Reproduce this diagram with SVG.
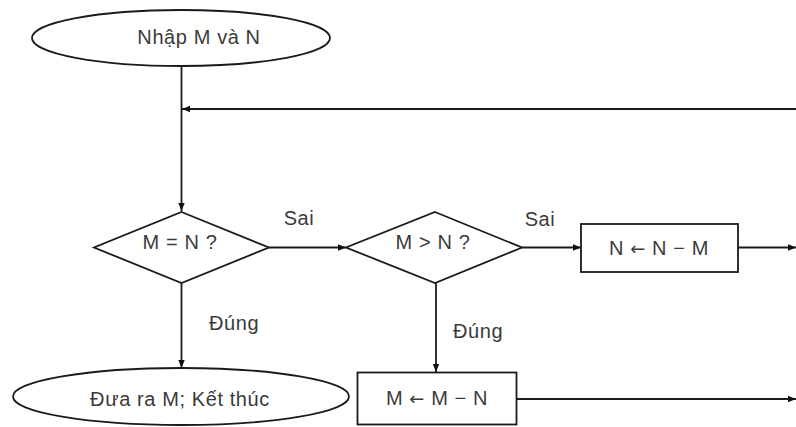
<svg xmlns="http://www.w3.org/2000/svg" width="796" height="427" viewBox="0 0 796 427">
<defs>
<marker id="arr" viewBox="0 0 10 10" refX="10" refY="5" markerWidth="8" markerHeight="8" markerUnits="userSpaceOnUse" orient="auto">
<path d="M0,1 L10,5 L0,9 Z" fill="#111"/>
</marker>
<style>
.s{fill:#fff;stroke:#1a1a1a;stroke-width:1.8}
.t{font-family:"Liberation Sans",Arial,sans-serif;font-size:20px;letter-spacing:0.6px;fill:#3a3a3a;text-anchor:middle}
.a{font-family:"DejaVu Sans",sans-serif;font-size:18px}
.c{fill:none;stroke:#1a1a1a;stroke-width:1.8}
</style>
</defs>
<rect width="796" height="427" fill="#fff"/>
<g id="connectors">
<line class="c" x1="181.5" y1="66" x2="181.5" y2="211" marker-end="url(#arr)"/>
<line class="c" x1="796" y1="109" x2="182" y2="109" marker-end="url(#arr)"/>
<line class="c" x1="269" y1="247.5" x2="346" y2="247.5" marker-end="url(#arr)"/>
<line class="c" x1="522" y1="247.5" x2="581" y2="247.5" marker-end="url(#arr)"/>
<line class="c" x1="738" y1="247.5" x2="796" y2="247.5" marker-end="url(#arr)"/>
<line class="c" x1="181.5" y1="283" x2="181.5" y2="368" marker-end="url(#arr)"/>
<line class="c" x1="436" y1="283" x2="436" y2="372" marker-end="url(#arr)"/>
<line class="c" x1="517" y1="399" x2="796" y2="399" marker-end="url(#arr)"/>
</g>
<g id="labels">
<text class="t" x="299" y="225">Sai</text>
<text class="t" x="540" y="226">Sai</text>
<text class="t" x="234" y="330">Đúng</text>
<text class="t" x="478" y="338">Đúng</text>
</g>
<g id="start">
<ellipse class="s" cx="181" cy="38" rx="149" ry="28"/>
<text class="t" x="199" y="44">Nhập M và N</text>
</g>
<g id="cond1">
<polygon class="s" points="181.5,212 269,247.5 181.5,283 94,247.5"/>
<text class="t" x="180" y="249">M = N ?</text>
</g>
<g id="cond2">
<polygon class="s" points="435,212 522,247.5 435,283 346,247.5"/>
<text class="t" x="433" y="249">M &gt; N ?</text>
</g>
<g id="stepN">
<rect class="s" x="581" y="224" width="157" height="48"/>
<text class="t" x="659" y="255">N <tspan class="a">←</tspan> N − M</text>
</g>
<g id="stepM">
<rect class="s" x="357.5" y="372.5" width="159" height="52"/>
<text class="t" x="437" y="405">M <tspan class="a">←</tspan> M − N</text>
</g>
<g id="end">
<ellipse class="s" cx="181" cy="396.5" rx="168" ry="28.5"/>
<text class="t" x="180" y="406">Đưa ra M; Kết thúc</text>
</g>
</svg>
